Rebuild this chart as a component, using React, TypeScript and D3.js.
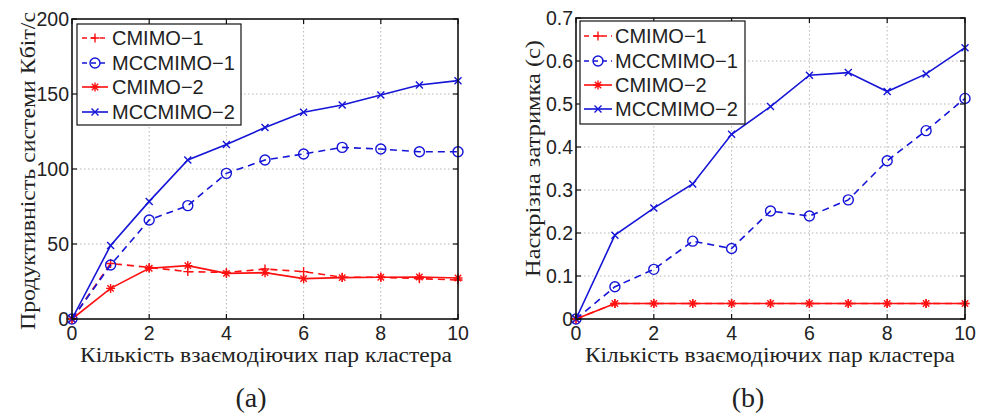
import React from "react";
import * as d3 from "d3";

const xs = [0, 1, 2, 3, 4, 5, 6, 7, 8, 9, 10];
const seriesNames = ["CMIMO−1", "MCCMIMO−1", "CMIMO−2", "MCCMIMO−2"];

// Panel (a): throughput, Kbit/s
const thrCMIMO1 = [0, 37, 34.4, 31.6, 31, 33.3, 31.6, 27.8, 27.8, 26.9, 26];
const thrMCCMIMO1 = [0, 36, 66, 75.6, 97.1, 106, 110, 114.4, 113.3, 111.5, 111.5];
const thrCMIMO2 = [0, 20.4, 33.8, 35.6, 30.4, 30.9, 26.9, 27.6, 27.8, 28, 27.3];
const thrMCCMIMO2 = [0, 49, 78.4, 106, 116.4, 127.6, 137.8, 142.7, 149.3, 156, 158.9];

// Panel (b): end-to-end delay, s
const delCMIMO1 = [0, 0.036, 0.036, 0.036, 0.036, 0.036, 0.036, 0.036, 0.036, 0.036, 0.036];
const delMCCMIMO1 = [0, 0.075, 0.1155, 0.181, 0.164, 0.251, 0.2395, 0.277, 0.368, 0.438, 0.513];
const delCMIMO2 = [0, 0.036, 0.036, 0.036, 0.036, 0.036, 0.036, 0.036, 0.036, 0.036, 0.036];
const delMCCMIMO2 = [0, 0.195, 0.258, 0.314, 0.4295, 0.494, 0.567, 0.573, 0.529, 0.57, 0.631];

const xTicks = [0, 2, 4, 6, 8, 10];
const yTicksA = [0, 50, 100, 150, 200];
const yTicksB = [0, 0.1, 0.2, 0.3, 0.4, 0.5, 0.6, 0.7];

const xLabel = "Кількість взаємодіючих пар кластера";
const yLabelA = "Продуктивність системи Кбіт/с";
const yLabelB = "Наскрізна затримка (с)";

const RED = "#ff1010";
const BLUE = "#1515d8";

type Style = { color: string; dash: string | null; marker: "plus" | "circle" | "star" | "x" };
const styles: Style[] = [
  { color: RED, dash: "7,5", marker: "plus" },
  { color: BLUE, dash: "7,5", marker: "circle" },
  { color: RED, dash: null, marker: "star" },
  { color: BLUE, dash: null, marker: "x" },
];

function Marker({ kind, x, y, color }: { kind: string; x: number; y: number; color: string }) {
  const s = 4.5;
  const sw = 1.4;
  if (kind === "circle") return <circle cx={x} cy={y} r={5} fill="none" stroke={color} strokeWidth={sw} />;
  if (kind === "plus")
    return (
      <path d={`M${x - s},${y}H${x + s}M${x},${y - s}V${y + s}`} stroke={color} strokeWidth={sw} fill="none" />
    );
  if (kind === "x") {
    const t = 3.5;
    return (
      <path d={`M${x - t},${y - t}L${x + t},${y + t}M${x - t},${y + t}L${x + t},${y - t}`} stroke={color} strokeWidth={sw} fill="none" />
    );
  }
  const t = 3.2;
  return (
    <path
      d={`M${x - s},${y}H${x + s}M${x},${y - s}V${y + s}M${x - t},${y - t}L${x + t},${y + t}M${x - t},${y + t}L${x + t},${y - t}`}
      stroke={color}
      strokeWidth={sw}
      fill="none"
    />
  );
}

type PanelProps = {
  left: number;
  right: number;
  top: number;
  bottom: number;
  yMax: number;
  yTicks: number[];
  yFmt: (v: number) => string;
  data: number[][];
  yLabel: string;
  yLabelX: number;
  yLabelY0: number;
  yLabelY1: number;
  legend: { x0: number; y0: number; x1: number; y1: number; rows: number[]; lineX0: number; lineX1: number; textX: number };
  xLabelX0: number;
  xLabelX1: number;
};

function Panel(p: PanelProps) {
  const x = d3.scaleLinear().domain([0, 10]).range([p.left, p.right]);
  const y = d3.scaleLinear().domain([0, p.yMax]).range([p.bottom, p.top]);
  const line = d3
    .line<number>()
    .x((_, i) => x(xs[i]))
    .y((d) => y(d));
  const tickFont = "'Liberation Sans', Arial, sans-serif";
  const serif = "'Liberation Serif', 'DejaVu Serif', 'Times New Roman', serif";
  const tl = 5;
  return (
    <g>
      {/* grid */}
      {xTicks.slice(1, -1).map((t) => (
        <line key={"gx" + t} x1={x(t)} x2={x(t)} y1={p.top} y2={p.bottom} stroke="#b5b5b5" strokeWidth={1} strokeDasharray="1.5,2.5" />
      ))}
      {p.yTicks.slice(1, -1).map((t) => (
        <line key={"gy" + t} x1={p.left} x2={p.right} y1={y(t)} y2={y(t)} stroke="#b5b5b5" strokeWidth={1} strokeDasharray="1.5,2.5" />
      ))}
      {/* series */}
      {p.data.map((vals, si) => (
        <g key={"s" + si}>
          <path d={line(vals) || ""} fill="none" stroke={styles[si].color} strokeWidth={1.6} strokeDasharray={styles[si].dash || undefined} />
          {vals.map((v, i) => (
            <Marker key={i} kind={styles[si].marker} x={x(xs[i])} y={y(v)} color={styles[si].color} />
          ))}
        </g>
      ))}
      {/* axes box */}
      <rect x={p.left} y={p.top} width={p.right - p.left} height={p.bottom - p.top} fill="none" stroke="#111" strokeWidth={1.6} />
      {xTicks.map((t) => (
        <g key={"tx" + t}>
          <line x1={x(t)} x2={x(t)} y1={p.bottom} y2={p.bottom - tl} stroke="#111" strokeWidth={1.2} />
          <line x1={x(t)} x2={x(t)} y1={p.top} y2={p.top + tl} stroke="#111" strokeWidth={1.2} />
          <text x={x(t)} y={p.bottom + 21} textAnchor="middle" fontFamily={tickFont} fontSize={19.5} fill="#222">
            {t}
          </text>
        </g>
      ))}
      {p.yTicks.map((t) => (
        <g key={"ty" + t}>
          <line x1={p.left} x2={p.left + tl} y1={y(t)} y2={y(t)} stroke="#111" strokeWidth={1.2} />
          <line x1={p.right} x2={p.right - tl} y1={y(t)} y2={y(t)} stroke="#111" strokeWidth={1.2} />
          <text x={p.left - 3} y={y(t) + 7} textAnchor="end" fontFamily={tickFont} fontSize={19.5} fill="#222">
            {p.yFmt(t)}
          </text>
        </g>
      ))}
      {/* legend */}
      <rect x={p.legend.x0} y={p.legend.y0} width={p.legend.x1 - p.legend.x0} height={p.legend.y1 - p.legend.y0} fill="#fff" stroke="#111" strokeWidth={1.2} />
      {seriesNames.map((name, i) => {
        const ry = p.legend.rows[i];
        const st = styles[i];
        return (
          <g key={"lg" + i}>
            <line x1={p.legend.lineX0} x2={p.legend.lineX1} y1={ry} y2={ry} stroke={st.color} strokeWidth={1.6} strokeDasharray={st.dash ? "5,4" : undefined} />
            <Marker kind={st.marker} x={(p.legend.lineX0 + p.legend.lineX1) / 2} y={ry} color={st.color} />
            <text x={p.legend.textX} y={ry + 7} fontFamily={tickFont} fontSize={20} fill="#222">
              {name}
            </text>
          </g>
        );
      })}
      {/* axis labels */}
      <text
        x={(p.xLabelX0 + p.xLabelX1) / 2}
        y={362}
        textAnchor="middle"
        fontFamily={serif}
        fontSize={20}
        fill="#222"
        textLength={p.xLabelX1 - p.xLabelX0}
        lengthAdjust="spacingAndGlyphs"
      >
        {xLabel}
      </text>
      <text
        transform={`translate(${p.yLabelX},${(p.yLabelY0 + p.yLabelY1) / 2}) rotate(-90)`}
        textAnchor="middle"
        fontFamily={serif}
        fontSize={22}
        fill="#222"
        textLength={p.yLabelY1 - p.yLabelY0}
        lengthAdjust="spacingAndGlyphs"
      >
        {p.yLabel}
      </text>
    </g>
  );
}

export default function App() {
  const serif = "'Liberation Serif', 'DejaVu Serif', 'Times New Roman', serif";
  return (
    <svg width={983} height={419} style={{ position: "absolute", left: 0, top: 0, background: "#fff" }}>
      <rect x={0} y={0} width={983} height={419} fill="#fff" />
      <Panel
        left={72}
        right={458}
        top={19}
        bottom={319}
        yMax={200}
        yTicks={yTicksA}
        yFmt={(v) => String(v)}
        data={[thrCMIMO1, thrMCCMIMO1, thrCMIMO2, thrMCCMIMO2]}
        yLabel={yLabelA}
        yLabelX={35}
        yLabelY0={12}
        yLabelY1={330}
        legend={{ x0: 77, y0: 24, x1: 241, y1: 125, rows: [38, 63, 87, 112], lineX0: 82, lineX1: 108, textX: 112 }}
        xLabelX0={80}
        xLabelX1={452}
      />
      <Panel
        left={576}
        right={965}
        top={18}
        bottom={319}
        yMax={0.7}
        yTicks={yTicksB}
        yFmt={(v) => (v === 0 ? "0" : d3.format(".1f")(v))}
        data={[delCMIMO1, delMCCMIMO1, delCMIMO2, delMCCMIMO2]}
        yLabel={yLabelB}
        yLabelX={540}
        yLabelY0={40}
        yLabelY1={277}
        legend={{ x0: 580, y0: 21, x1: 745, y1: 124, rows: [36, 61, 85, 109], lineX0: 584, lineX1: 612, textX: 615 }}
        xLabelX0={585}
        xLabelX1={955}
      />
      <text x={251} y={407} textAnchor="middle" fontFamily={serif} fontSize={28} fill="#222">
        (a)
      </text>
      <text x={748} y={407} textAnchor="middle" fontFamily={serif} fontSize={28} fill="#222">
        (b)
      </text>
    </svg>
  );
}
